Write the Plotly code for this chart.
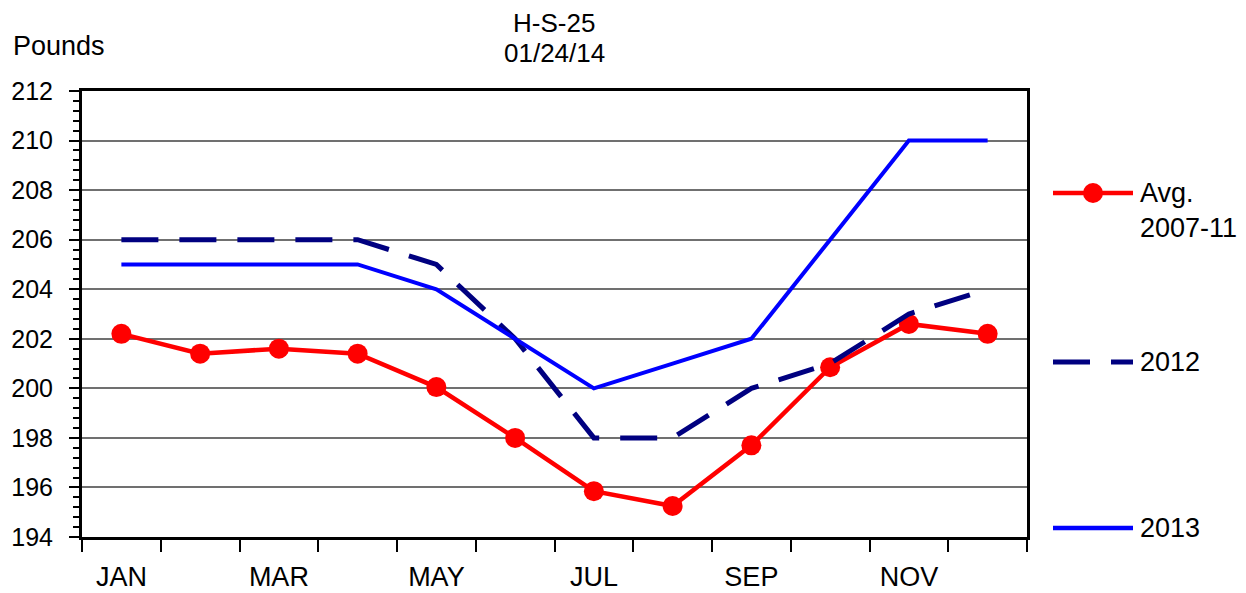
import plotly.graph_objects as go

MONTHS = ["JAN", "FEB", "MAR", "APR", "MAY", "JUN", "JUL", "AUG", "SEP", "OCT", "NOV", "DEC"]
TICK_MONTHS = ["JAN", "MAR", "MAY", "JUL", "SEP", "NOV"]

AVG_2007_11 = [202.2, 201.4, 201.6, 201.4, 200.05, 198.0, 195.85, 195.25, 197.7, 200.85, 202.6, 202.2]
Y2012 = [206, 206, 206, 206, 205, 202, 198, 198, 200, 201, 203, 204]
Y2013 = [205, 205, 205, 205, 204, 202, 200, 201, 202, 206, 210, 210]

FONT = "Liberation Sans, Arial, sans-serif"
COLOR_AVG = "#ff0000"
COLOR_2012 = "#000080"
COLOR_2013 = "#0000ff"
DASH_2012 = "37px,21px"

# page has an 8px body margin, so the figure is 8px smaller than the window
W, H = 1238, 585
ML, MT, PW, PH = 74, 83, 945, 446


def px_x(dx):
    return dx / PW


def px_y(dy):
    return dy / PH


x = list(range(len(MONTHS)))

fig = go.Figure()

fig.add_trace(go.Scatter(
    x=x, y=AVG_2007_11, name="Avg. 2007-11", mode="lines+markers",
    line={"color": COLOR_AVG, "width": 4.5},
    marker={"color": COLOR_AVG, "size": 20},
))
fig.add_trace(go.Scatter(
    x=x, y=Y2012, name="2012", mode="lines",
    line={"color": COLOR_2012, "width": 5, "dash": DASH_2012},
))
fig.add_trace(go.Scatter(
    x=x, y=Y2013, name="2013", mode="lines",
    line={"color": COLOR_2013, "width": 4},
))

fig.update_layout(
    width=W, height=H,
    plot_bgcolor="#ffffff", paper_bgcolor="#ffffff",
    font={"family": FONT, "size": 24, "color": "#000"},
    margin={"l": ML, "r": W - ML - PW, "t": MT, "b": H - MT - PH, "autoexpand": False},
    showlegend=False,
    xaxis={
        "range": [-0.5, 11.5],
        "tickvals": [MONTHS.index(m) for m in TICK_MONTHS],
        "ticktext": TICK_MONTHS,
        "ticks": "",
        "tickfont": {"size": 27},
        "showgrid": False,
        "zeroline": False,
        "automargin": False,
        "showline": True, "linecolor": "#000", "linewidth": 3, "mirror": True,
        "ticklabelstandoff": 14,
        "minor": {"tick0": -0.5, "dtick": 1, "ticks": "outside", "ticklen": 12,
                  "tickwidth": 2, "tickcolor": "#000", "showgrid": False},
    },
    yaxis={
        "range": [194, 212],
        "dtick": 2,
        "ticks": "outside", "ticklen": 10, "tickwidth": 2, "tickcolor": "#000",
        "tickfont": {"size": 25},
        "showgrid": True, "gridcolor": "#707070", "gridwidth": 1.5,
        "zeroline": False,
        "automargin": False,
        "showline": True, "linecolor": "#000", "linewidth": 3, "mirror": True,
        "ticklabelstandoff": 11,
        "minor": {"dtick": 0.4, "ticks": "outside", "ticklen": 6,
                  "tickwidth": 2, "tickcolor": "#000", "showgrid": False},
    },
)

# title lines and unit label (positions in px relative to the plot area)
for txt, cx, cy, anchor in [
    ("H-S-25", 472, 514, "center"),
    ("01/24/14", 472, 484, "center"),
    ("Pounds", -70, 491, "left"),
]:
    fig.add_annotation(
        text=txt, xref="paper", yref="paper", x=px_x(cx), y=px_y(cy),
        xanchor=anchor, yanchor="middle", showarrow=False, borderpad=0,
        font={"size": 26 if anchor == "center" else 27, "family": FONT},
    )

# legend drawn at the right of the plot, like the original
LEG_X0, LEG_X1, LEG_TX = 971, 1051, 1056
legend_rows = [
    ("Avg.<br>2007-11", COLOR_AVG, None, 344, 326.5, True),
    ("2012", COLOR_2012, DASH_2012, 175, 175, False),
    ("2013", COLOR_2013, None, 9, 9, False),
]
for label, color, dash, ly, ty, dot in legend_rows:
    line = {"color": color, "width": 5 if dash else 4.5}
    if dash:
        line["dash"] = dash
    fig.add_shape(type="line", xref="paper", yref="paper",
                  x0=px_x(LEG_X0), x1=px_x(LEG_X1), y0=px_y(ly), y1=px_y(ly),
                  line=line)
    if dot:
        cx = (LEG_X0 + LEG_X1) / 2
        fig.add_shape(type="circle", xref="paper", yref="paper",
                      x0=px_x(cx - 10), x1=px_x(cx + 10),
                      y0=px_y(ly - 10), y1=px_y(ly + 10),
                      fillcolor=color, line={"color": color, "width": 0})
    fig.add_annotation(
        text=label, xref="paper", yref="paper", x=px_x(LEG_TX), y=px_y(ty),
        xanchor="left", yanchor="middle", align="left", showarrow=False,
        font={"size": 27, "family": FONT},
    )

fig.write_html("out.html")
